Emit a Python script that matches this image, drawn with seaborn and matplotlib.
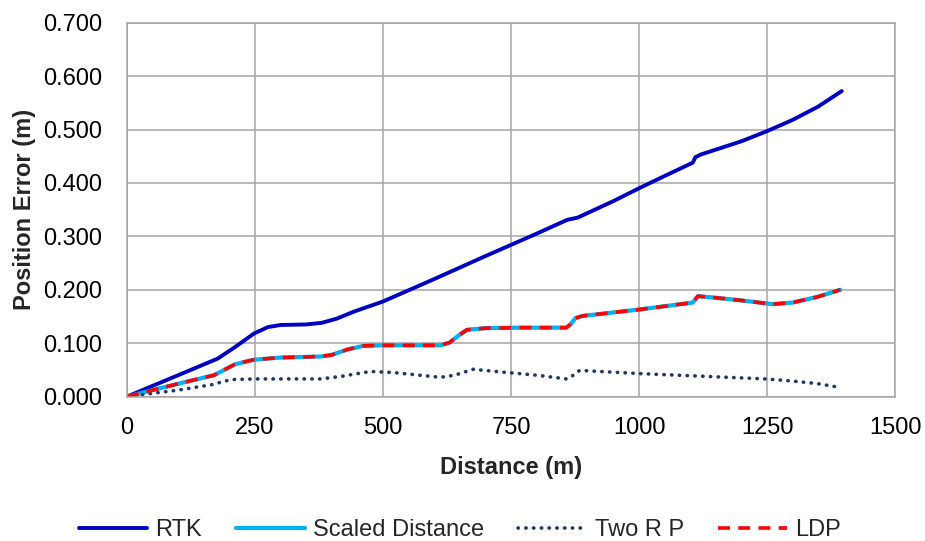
import matplotlib
matplotlib.use("Agg")
import matplotlib.pyplot as plt
import seaborn as sns
import pandas as pd

# ---- data ----
rtk_x = [0, 50, 100, 177, 210, 248, 275, 300, 350, 380, 410, 443, 500, 600, 700, 800,
         860, 880, 950, 1000, 1050, 1105, 1110, 1120, 1200, 1250, 1300, 1350, 1396]
rtk_y = [0.000, 0.020, 0.040, 0.071, 0.092, 0.118, 0.130, 0.134, 0.135, 0.138, 0.146, 0.159,
         0.178, 0.220, 0.263, 0.305, 0.331, 0.335, 0.366, 0.390, 0.413, 0.438, 0.448, 0.453,
         0.478, 0.497, 0.518, 0.543, 0.572]

sd_x = [0, 50, 100, 170, 190, 210, 230, 248, 300, 378, 400, 430, 462, 500, 550, 612, 630, 650,
        664, 700, 768, 858, 866, 876, 890, 1001, 1105, 1115, 1150, 1200, 1261, 1300, 1350, 1393]
sd_y = [0.000, 0.012, 0.024, 0.040, 0.050, 0.060, 0.065, 0.069, 0.073, 0.075, 0.078, 0.088,
        0.095, 0.096, 0.096, 0.096, 0.101, 0.116, 0.125, 0.128, 0.129, 0.129, 0.135, 0.147,
        0.151, 0.163, 0.176, 0.188, 0.185, 0.180, 0.173, 0.176, 0.187, 0.200]

ldp_x = sd_x
ldp_y = sd_y

trp_x = [0, 50, 100, 170, 190, 210, 250, 378, 420, 475, 520, 612, 640, 676, 720, 800, 858,
         866, 884, 1001, 1100, 1248, 1300, 1350, 1393]
trp_y = [0.000, 0.006, 0.012, 0.023, 0.029, 0.032, 0.033, 0.033, 0.038, 0.047, 0.045, 0.036,
         0.040, 0.051, 0.047, 0.040, 0.033, 0.036, 0.049, 0.043, 0.039, 0.033, 0.029, 0.024,
         0.017]

x_ticks = [0, 250, 500, 750, 1000, 1250, 1500]
y_ticks = [0.0, 0.1, 0.2, 0.3, 0.4, 0.5, 0.6, 0.7]

sns.set_style("white")
plt.rcParams['font.family'] = ['Liberation Sans', 'DejaVu Sans']

fig = plt.figure(figsize=(9.25, 5.41), dpi=100)
ax = fig.add_axes([0.1373, 0.267, 0.8303, 0.691])

grid_c = "#A6A6A6"

sns.lineplot(x=rtk_x, y=rtk_y, ax=ax, color="#0000C0", lw=2.8, label="RTK", sort=False)
sns.lineplot(x=sd_x, y=sd_y, ax=ax, color="#00B0F0", lw=3.0, label="Scaled Distance", sort=False)
sns.lineplot(x=trp_x, y=trp_y, ax=ax, color="#1F3864", lw=2.6, label="Two R P", sort=False,
             linestyle=(0, (0.1, 2.05)), dash_capstyle="round")
sns.lineplot(x=ldp_x, y=ldp_y, ax=ax, color="#FF0000", lw=2.6, label="LDP", sort=False,
             linestyle=(0, (3.3, 2.3)))

ax.set_xlim(0, 1500)
ax.set_ylim(0, 0.7)
ax.set_xticks(x_ticks)
ax.set_yticks(y_ticks)
ax.set_yticklabels([f"{v:.3f}" for v in y_ticks])
ax.set_xticklabels([str(v) for v in x_ticks])
ax.grid(True, color=grid_c, lw=1.1)
ax.set_axisbelow(True)
for s in ax.spines.values():
    s.set_visible(True)
    s.set_color(grid_c)
    s.set_linewidth(1.1)

ax.tick_params(axis="x", length=0, pad=15, labelsize=17, colors="black")
ax.tick_params(axis="y", length=0, pad=18, labelsize=17, colors="black")
ax.set_xlabel("Distance (m)", fontsize=17, fontweight="bold", labelpad=12)
ax.set_ylabel("Position Error (m)", fontsize=17, fontweight="bold", labelpad=5)

ax.get_legend().remove()
handles, labels = ax.get_legend_handles_labels()
fig.legend(handles, labels, loc="center", bbox_to_anchor=(0.497, 0.020), ncol=4,
           frameon=False, fontsize=17, handlelength=2.9, handletextpad=0.35,
           columnspacing=1.45)

fig.savefig("out.png", dpi=100)
